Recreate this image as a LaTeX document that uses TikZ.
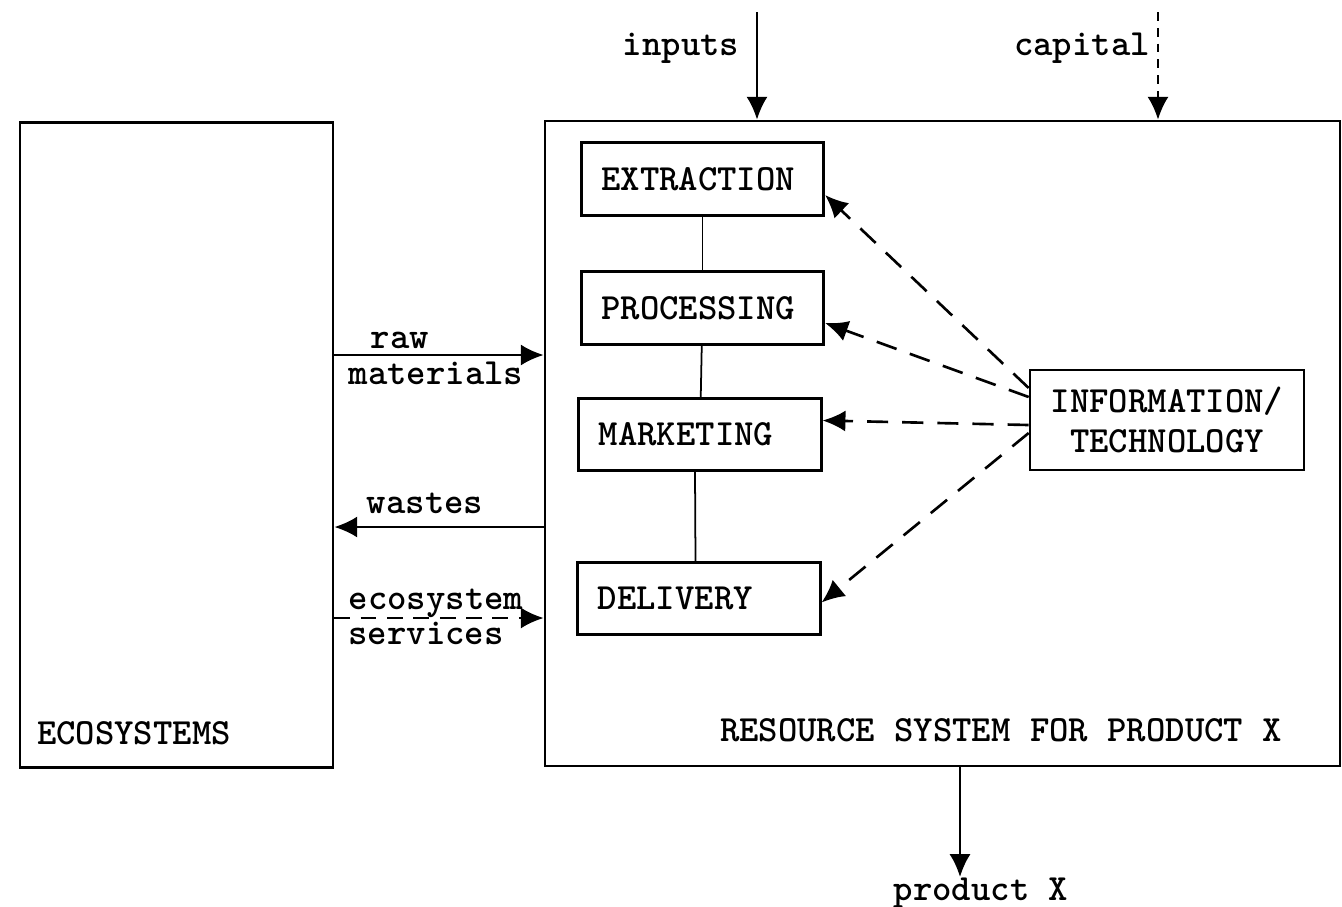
\documentclass[tikz,border=0pt]{standalone}
\usetikzlibrary{arrows.meta, positioning}
\tikzset{
    >={Latex[length=13pt,width=12pt]},
    every node/.style={font=\fontsize{21}{23}\selectfont\ttfamily\bfseries},
    every picture/.style={line width=1.5pt},
    system/.style={draw, minimum width=#1, minimum height=12.9cm},
    stage/.style={draw, minimum height=1.45cm, text width=4.05cm,
        inner xsep=0.4cm, align=left},
    info/.style={draw, minimum width=5.48cm, minimum height=2cm, align=center},
    flow/.style={->},
    softflow/.style={->, dash pattern=on 12pt off 8pt},
    thinflow/.style={->, dash pattern=on 5pt off 4pt},
}

\begin{document}
\begin{tikzpicture}
    \useasboundingbox (0,0) rectangle (26.84,-18.12);

        \node[system=6.26cm] (eco) at (3.53,-8.9) {};
        \node[system=15.9cm] (res) at (18.85,-8.87) {};

        \node[stage] (ext) at (14.05,-3.58) {EXTRACTION};
        \node[stage] (proc) at (14.05,-6.16) {PROCESSING};
        \node[stage] (mark) at (14.0,-8.69) {MARKETING};
        \node[stage] (del) at (13.98,-11.97) {DELIVERY};
        \node[info] (it) at (23.34,-8.4) {INFORMATION/\\TECHNOLOGY};

        \node (ecolbl) at (2.68,-14.66) {ECOSYSTEMS};
        \node (reslbl) at (20.02,-14.6) {RESOURCE SYSTEM FOR PRODUCT X};

        \node (inlbl) at (13.62,-0.96) {inputs};
        \node (caplbl) at (21.64,-0.96) {capital};
        \node (rawlbl) at (8.0,-6.8) {raw};
        \node (matlbl) at (8.72,-7.46) {materials};
        \node (wstlbl) at (8.5,-10.06) {wastes};
        \node (svclbl) at (8.72,-12.06) {ecosystem};
        \node (svclbl2) at (8.52,-12.66) {services};
        \node (prodlbl) at (19.62,-17.86) {product X};

        \coordinate (intop) at (15.14,-0.24);
        \coordinate (captop) at (23.16,-0.24);
        \coordinate (prodtip) at (19.2,-17.54);

    % chain of stages
    \draw[line width=1pt] (ext) -- (proc);
    \draw[line width=1pt] (proc) -- (mark);
    \draw[line width=1pt] ([xshift=-0.1cm]mark.south) -- ([xshift=-0.07cm]del.north);

    % outside flows
    \draw[flow] (intop) -- (intop |- res.north);
    \draw[thinflow] (captop) -- (captop |- res.north);
    \draw[flow] (prodtip |- res.south) -- (prodtip);

    % exchanges with ecosystems
    \draw[flow] (eco.east |- 0,-7.1) -- (res.west |- 0,-7.1);
    \draw[flow] (res.west |- 0,-10.54) -- (eco.east |- 0,-10.54);
    \draw[->, dash pattern=on 9pt off 6pt] (eco.east |- 0,-12.36) -- (res.west |- 0,-12.36);

    % information and technology
    \draw[softflow] ([yshift=0.64cm]it.west) -- ([yshift=-0.32cm]ext.east);
    \draw[softflow] ([yshift=0.46cm]it.west) -- ([yshift=-0.3cm]proc.east);
    \draw[softflow] ([yshift=-0.1cm]it.west) -- ([yshift=0.28cm]mark.east);
    \draw[softflow] ([yshift=-0.26cm]it.west) -- ([yshift=-0.08cm]del.east);
\end{tikzpicture}
\end{document}
